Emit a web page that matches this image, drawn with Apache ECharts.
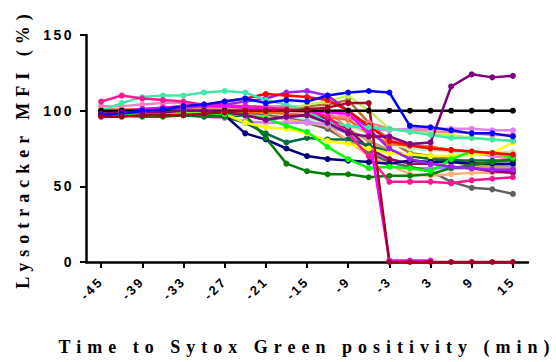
<!DOCTYPE html>
<html>
<head>
<meta charset="utf-8">
<script src="https://cdn.jsdelivr.net/npm/echarts@6/dist/echarts.min.js"></script>
<style>
  html, body { margin: 0; padding: 0; background: #fff; }
  #chart { width: 556px; height: 362px; }
  #chart text { letter-spacing: 2.5px; }
  #chart text[style*="Serif"] { letter-spacing: 6px; }
</style>
</head>
<body>
<div id="chart"></div>
<script>
  // time points (min) and tick labels
  const times = [-45, -42, -39, -36, -33, -30, -27, -24, -21, -18, -15, -12, -9, -6, -3, 0, 3, 6, 9, 12, 15]
  const xTicks = [-45, -39, -33, -27, -21, -15, -9, -3, 3, 9, 15]

  // one array per cell, values in % of start
  const pinkLight = [103, 103, 104, 105, 105, 104, 104, 103, 103, 103, 102, 100, 96, 90, 82, 78, 76, 74, 72, 70, 68]
  const brown = [99, 99, 99, 99, 99, 100, 100, 100, 101, 102, 103, 104, 107, 92, 80, 72, 70, 68, 66, 64, 63]
  const paleGreen = [99, 99, 99, 99, 99, 99, 99, 99, 98, 97, 95, 92, 90, 85, 78, 75, 74, 73, 72, 72, 73]
  const periwinkle = [99, 99, 99, 99, 99, 99, 99, 98, 97, 95, 93, 90, 85, 75, 66, 62, 62, 62, 62, 62, 63]
  const gray = [98, 98, 98, 98, 98, 98, 98, 98, 97, 95, 92, 88, 80, 72, 66, 63, 60, 53, 49, 48, 45]
  const peach = [99, 99, 99, 99, 99, 98, 98, 97, 96, 94, 92, 90, 80, 70, 64, 58, 57, 58, 59, 59, 59]
  const tan = [100, 100, 100, 100, 100, 100, 100, 100, 100, 100, 100, 100, 88, 80, 74, 70, 68, 66, 64, 63, 62]
  const orange = [99, 99, 99, 99, 99, 99, 99, 99, 99, 98, 97, 96, 94, 85, 78, 77, 76, 74, 73, 72, 70]
  const salmon = [101, 101, 101, 102, 102, 102, 102, 101, 101, 100, 99, 97, 95, 92, 88, 87, 86, 86, 85, 84, 84]
  const lavender = [98, 98, 98, 97, 97, 96, 95, 93, 92, 92, 92, 91, 90, 88, 87, 88, 88, 88, 88, 87, 87]
  const maroon = [98, 98, 98, 98, 98, 98, 98, 97, 94, 96, 97, 95, 88, 75, 68, 65, 65, 63, 62, 60, 59]
  const teal = [98, 98, 97, 97, 97, 96, 96, 92, 85, 79, 82, 81, 81, 77, 73, 70, 68, 67, 67, 67, 67]
  const navy = [97, 97, 98, 98, 98, 98, 97, 85, 81, 75, 70, 68, 67, 66, 65, 67, 66, 66, 65, 65, 65]
  const green = [97, 97, 96, 96, 97, 97, 96, 97, 82, 65, 60, 58, 58, 56, 57, 57, 58, 62, 64, 66, 68]
  const yellow = [100, 100, 100, 100, 99, 99, 98, 92, 89, 88, 85, 80, 78, 75, 72, 71, 70, 70, 71, 72, 79]
  const yellowGreen = [99, 99, 99, 100, 100, 100, 100, 100, 100, 101, 104, 106, 110, 100, 88, 86, 85, 84, 82, 81, 80]
  const lime = [97, 97, 98, 98, 98, 98, 98, 97, 95, 90, 86, 76, 68, 62, 63, 62, 60, 68, 73, 72, 69]
  const violet = [98, 99, 100, 101, 102, 103, 104, 106, 108, 112, 113, 110, 100, 88, 75, 68, 65, 63, 62, 61, 61]
  const red = [99, 100, 101, 102, 103, 104, 106, 108, 111, 110, 109, 107, 100, 90, 80, 77, 75, 74, 73, 72, 71]
  const aquamarine = [100, 105, 109, 110, 110, 112, 113, 112, 107, 104, 100, 92, 90, 89, 88, 86, 84, 82, 82, 81, 80]
  const hotPink = [106, 110, 108, 107, 106, 104, 103, 103, 102, 101, 100, 96, 85, 70, 53, 53, 53, 52, 54, 55, 56]
  const magenta = [99, 100, 101, 102, 103, 103, 103, 102, 101, 100, 100, 99, 98, 85, 1, 1, 1, null, null, null, null]
  const black = [100, 100, 100, 100, 100, 100, 100, 100, 100, 100, 100, 100, 100, 100, 100, 100, 100, 100, 100, 100, 100]
  const purple = [98, 99, 99, 99, 100, 100, 99, 97, 94, 96, 97, 92, 85, 83, 83, 78, 79, 116, 124, 122, 123]
  const blue = [97, 98, 100, 101, 103, 104, 106, 108, 105, 107, 106, 110, 112, 113, 112, 90, 89, 87, 85, 85, 83]
  const darkRed = [96, 96, 97, 97, 97, 98, 99, 100, 100, 100, 101, 102, 105, 105, 0, 0, 0, 0, 0, 0, 0]

  // drawing order: first in list is drawn underneath
  const cells = [
    ['pinkLight', pinkLight, '#ff80c0'],
    ['brown', brown, '#b07030'],
    ['paleGreen', paleGreen, '#b8f0b8'],
    ['periwinkle', periwinkle, '#8c8cff'],
    ['gray', gray, '#606060'],
    ['peach', peach, '#ffb07a'],
    ['tan', tan, '#c8a064'],
    ['orange', orange, '#ff6600'],
    ['salmon', salmon, '#ff8080'],
    ['lavender', lavender, '#e080ff'],
    ['maroon', maroon, '#990060'],
    ['teal', teal, '#006b45'],
    ['navy', navy, '#000080'],
    ['green', green, '#008000'],
    ['yellow', yellow, '#ffff00'],
    ['yellowGreen', yellowGreen, '#c0f060'],
    ['lime', lime, '#00ff00'],
    ['violet', violet, '#a020f0'],
    ['red', red, '#ff0000'],
    ['aquamarine', aquamarine, '#40e8a8'],
    ['hotPink', hotPink, '#ff1493'],
    ['magenta', magenta, '#ff00ff'],
    ['black', black, '#000000'],
    ['purple', purple, '#800080'],
    ['blue', blue, '#0000ff'],
    ['darkRed', darkRed, '#a50021']
  ]

  const chart = echarts.init(document.getElementById('chart'), null, { renderer: 'svg' })

  const series = cells.map(function(c) {
    return {
      name: c[0],
      type: 'line',
      symbol: 'circle',
      symbolSize: 6,
      color: c[2],
      lineStyle: { width: 2.5 },
      data: times.map(function(t, i) { return [t, c[1][i]] })
    }
  })

  chart.setOption({
    animation: false,
    grid: { left: 86, right: 28, top: 35, bottom: 100, outerBoundsMode: 'none' },
    xAxis: {
      type: 'value',
      min: -47.2,
      max: 17.2,
      splitLine: { show: false },
      axisLine: { onZero: false, lineStyle: { color: '#000', width: 2.5 } },
      axisTick: { customValues: xTicks, length: 6, lineStyle: { color: '#000', width: 2 } },
      axisLabel: {
        customValues: xTicks,
        rotate: 45,
        margin: 17,
        color: '#000',
        fontSize: 13,
        fontWeight: 'bold',
        fontFamily: 'Liberation Sans'
      },
      name: 'Time to Sytox Green positivity (min)',
      nameLocation: 'middle',
      nameGap: 76,
      nameTextStyle: { color: '#000', fontSize: 18, fontWeight: 'bold', fontFamily: 'Liberation Serif' }
    },
    yAxis: {
      type: 'value',
      min: 0,
      max: 150,
      interval: 50,
      splitLine: { show: false },
      axisLine: { show: true, onZero: false, lineStyle: { color: '#000', width: 2.5 } },
      axisTick: { show: true, length: 6, lineStyle: { color: '#000', width: 2 } },
      axisLabel: { margin: 12, color: '#000', fontSize: 14, fontWeight: 'bold', fontFamily: 'Liberation Sans' },
      name: 'Lysotracker MFI (%)',
      nameLocation: 'middle',
      nameGap: 54,
      nameTextStyle: { color: '#000', fontSize: 18, fontWeight: 'bold', fontFamily: 'Liberation Serif' }
    },
    series: series
  })
</script>
</body>
</html>
